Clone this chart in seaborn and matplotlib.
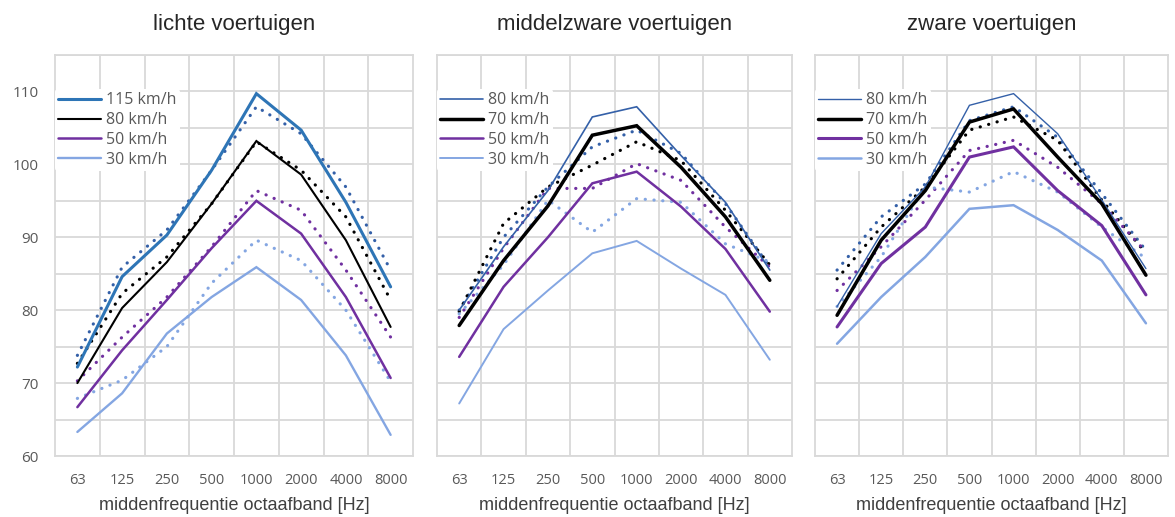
import matplotlib
matplotlib.use("Agg")
import matplotlib.pyplot as plt
import seaborn as sns
import numpy as np

# octave band centre frequencies (category axis)
bands = ["63", "125", "250", "500", "1000", "2000", "4000", "8000"]

titles = ["lichte voertuigen", "middelzware voertuigen", "zware voertuigen"]
xlabel = "middenfrequentie octaafband [Hz]"

# --- lichte voertuigen -------------------------------------------------
licht_labels = ["115 km/h", "80 km/h", "50 km/h", "30 km/h"]
licht_115 = [72.2, 84.6, 90.3, 99.2, 109.7, 104.7, 94.8, 83.2]
licht_80 = [70.0, 80.3, 86.6, 94.6, 103.2, 98.6, 89.6, 77.7]
licht_50 = [66.7, 74.5, 81.4, 88.5, 95.0, 90.5, 81.8, 70.7]
licht_30 = [63.3, 68.6, 76.8, 81.8, 85.9, 81.4, 73.8, 62.9]
licht_115_stip = [73.8, 85.9, 91.0, 99.2, 107.9, 104.2, 96.9, 85.5]
licht_80_stip = [72.7, 82.3, 87.3, 94.6, 103.1, 99.2, 92.8, 81.4]
licht_50_stip = [70.3, 76.3, 81.8, 88.7, 96.4, 93.7, 85.5, 76.3]
licht_30_stip = [67.9, 70.4, 75.0, 83.7, 89.6, 86.8, 80.0, 70.2]

# --- middelzware voertuigen ---------------------------------------------
middel_labels = ["80 km/h", "70 km/h", "50 km/h", "30 km/h"]
middel_80 = [80.0, 88.7, 96.4, 106.5, 107.9, 101.2, 94.8, 85.5]
middel_70 = [77.9, 86.8, 94.3, 104.0, 105.3, 99.6, 92.8, 84.1]
middel_50 = [73.6, 83.2, 90.0, 97.4, 99.0, 94.2, 88.4, 79.8]
middel_30 = [67.2, 77.4, 82.7, 87.8, 89.5, 85.7, 82.1, 73.2]
middel_80_stip = [80.0, 90.0, 96.9, 102.4, 104.7, 101.5, 94.6, 85.9]
middel_70_stip = [79.8, 91.9, 96.9, 99.9, 103.1, 100.5, 93.7, 86.2]
middel_50_stip = [79.0, 88.5, 96.7, 96.7, 100.1, 97.8, 91.4, 85.9]
middel_30_stip = [79.5, 86.2, 95.1, 90.7, 95.3, 94.8, 89.1, 86.6]

# --- zware voertuigen ---------------------------------------------------
zwaar_labels = ["80 km/h", "70 km/h", "50 km/h", "30 km/h"]
zwaar_80 = [80.5, 90.5, 96.9, 108.1, 109.7, 104.2, 95.1, 85.7]
zwaar_70 = [79.3, 89.6, 96.4, 105.8, 107.6, 101.0, 94.6, 84.8]
zwaar_50 = [77.7, 86.4, 91.4, 101.0, 102.4, 96.4, 91.6, 82.1]
zwaar_30 = [75.4, 81.8, 87.3, 93.9, 94.4, 91.0, 86.8, 78.2]
zwaar_80_stip = [85.5, 92.8, 97.3, 106.0, 107.9, 103.7, 96.0, 88.2]
zwaar_70_stip = [84.3, 91.4, 96.9, 104.7, 106.5, 103.3, 95.1, 87.8]
zwaar_50_stip = [82.7, 88.7, 95.1, 101.9, 103.3, 99.6, 94.6, 88.0]
zwaar_30_stip = [80.5, 87.3, 96.9, 96.2, 99.0, 96.2, 91.4, 87.1]

# colours and widths per panel (top legend entry first)
BLUE = "#2E75B6"
NAVY = "#3460A8"
BLACK = "#000000"
PURPLE = "#7030A0"
LIGHT = "#84A6E2"

panels = [
    dict(labels=licht_labels,
         solid=[licht_115, licht_80, licht_50, licht_30],
         dotted=[licht_115_stip, licht_80_stip, licht_50_stip, licht_30_stip],
         colors=[BLUE, BLACK, PURPLE, LIGHT],
         dot_colors=[NAVY, BLACK, PURPLE, LIGHT],
         widths=[2.2, 1.5, 1.8, 1.7]),
    dict(labels=middel_labels,
         solid=[middel_80, middel_70, middel_50, middel_30],
         dotted=[middel_80_stip, middel_70_stip, middel_50_stip, middel_30_stip],
         colors=[NAVY, BLACK, PURPLE, LIGHT],
         dot_colors=[NAVY, BLACK, PURPLE, LIGHT],
         widths=[1.2, 2.5, 1.8, 1.4]),
    dict(labels=zwaar_labels,
         solid=[zwaar_80, zwaar_70, zwaar_50, zwaar_30],
         dotted=[zwaar_80_stip, zwaar_70_stip, zwaar_50_stip, zwaar_30_stip],
         colors=[NAVY, BLACK, PURPLE, LIGHT],
         dot_colors=[NAVY, BLACK, PURPLE, LIGHT],
         widths=[1.0, 2.5, 2.2, 1.8]),
]

sns.set_theme(style="white")
plt.rcParams["font.family"] = ["Liberation Sans", "DejaVu Sans"]

GRID = "#D9D9D9"
W, H = 1175, 517
fig = plt.figure(figsize=(W / 100, H / 100), dpi=100)
fig.patch.set_facecolor("white")

boxes = [(55, 413), (437, 792), (815, 1168)]
top_px, bot_px = 55, 456
xpos = np.arange(len(bands))

for i, (panel, (x0, x1)) in enumerate(zip(panels, boxes)):
    ax = fig.add_axes([x0 / W, 1 - bot_px / H, (x1 - x0) / W, (bot_px - top_px) / H])

    # dotted series first so the solid curves stay readable
    for vals, col in zip(panel["dotted"], panel["dot_colors"]):
        sns.lineplot(x=xpos, y=vals, ax=ax, color=col, lw=2.3,
                     linestyle=(0, (0.05, 2.7)), dash_capstyle="round",
                     legend=False, zorder=3)
    handles = []
    for vals, col, lw, lab in zip(panel["solid"], panel["colors"],
                                  panel["widths"], panel["labels"]):
        sns.lineplot(x=xpos, y=vals, ax=ax, color=col, lw=lw,
                     solid_joinstyle="miter", legend=False, zorder=4)
        handles.append(ax.lines[-1])

    ax.set_xlim(-0.5, 7.5)
    ax.set_ylim(60, 115)
    yt = list(range(60, 116, 5))
    ax.set_yticks(yt)
    if i == 0:
        ax.set_yticklabels([str(v) if (v % 10 == 0 and v <= 110) else "" for v in yt])
    else:
        ax.set_yticklabels([""] * len(yt))
    ax.set_xticks(xpos)
    ax.set_xticklabels(bands)
    ax.set_xticks(np.arange(0.5, 7.5, 1.0), minor=True)

    ax.grid(True, axis="y", which="major", color=GRID, lw=1.3)
    ax.grid(True, axis="x", which="minor", color=GRID, lw=1.3)
    ax.grid(False, axis="x", which="major")
    ax.set_axisbelow(True)
    for sp in ax.spines.values():
        sp.set_color(GRID)
        sp.set_linewidth(1.3)
        sp.set_visible(True)

    ax.tick_params(axis="both", which="both", length=0)
    ax.tick_params(axis="x", pad=12, labelsize=10.5, labelcolor="#595959")
    ax.tick_params(axis="y", pad=12, labelsize=11, labelcolor="#595959")
    for t in ax.get_xticklabels() + ax.get_yticklabels():
        t.set_family(["Open Sans", "DejaVu Sans"])

    ax.set_xlabel(xlabel, fontsize=13.0, color="#404040", labelpad=7)
    ax.set_ylabel("")
    ax.set_title(titles[i], fontsize=16, color="#262626", pad=18,
                 family=["Liberation Sans Narrow", "Liberation Sans"])

    leg = ax.legend(handles, panel["labels"], loc="upper left",
                    bbox_to_anchor=(0.0, 0.915), frameon=True,
                    fontsize=11.5, handlelength=2.7, handletextpad=0.3,
                    labelspacing=0.24, borderpad=0.2, borderaxespad=0.0)
    leg.get_frame().set_facecolor("white")
    leg.get_frame().set_edgecolor("none")
    leg.get_frame().set_alpha(1.0)
    leg.set_zorder(5)
    for t in leg.get_texts():
        t.set_color("#595959")
        t.set_family(["Open Sans", "DejaVu Sans"])

fig.savefig("out.png", dpi=100, facecolor="white")
